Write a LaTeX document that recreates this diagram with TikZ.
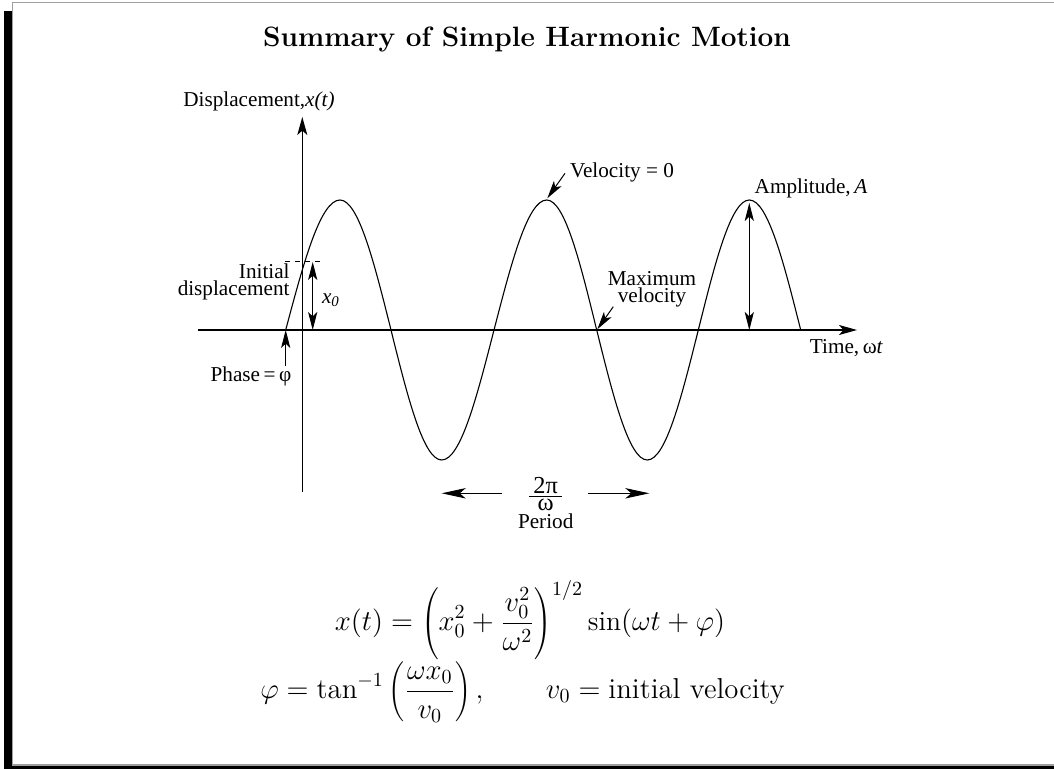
\documentclass[tikz,border=0pt]{standalone}
\usepackage{fontspec}
\newfontfamily\tms{Liberation Serif}
\usetikzlibrary{arrows.meta}
\begin{document}
\begin{tikzpicture}[x=0.5pt,y=-0.5pt,
  lbl/.style={font=\tms\fontsize{10.6}{8.4}\selectfont, inner sep=0pt},
  eqn/.style={font=\fontsize{14.4}{17}\selectfont, inner sep=0pt},
  arr/.style={-{Stealth[length=9pt,width=4.6pt,inset=2.2pt]}, line width=0.5pt},
  darr/.style={{Stealth[length=9pt,width=4.6pt,inset=2.2pt]}-{Stealth[length=9pt,width=4.6pt,inset=2.2pt]}, line width=0.5pt},
  parr/.style={-{Stealth[length=12pt,width=5.2pt,inset=3pt]}, line width=0.5pt},
  axis/.style={line width=0.6pt},
  curve/.style={line width=0.55pt}]
\useasboundingbox (0,0) rectangle (1054,769);
\clip (0,0) rectangle (1054,769);
% frame with shadow
\fill[black] (4,10.7) rectangle (1070,780);
\filldraw[fill=white, draw=gray!75, line width=0.7pt] (12.3,2.7) rectangle (1070,765);
% title
\node[font=\fontsize{14}{17}\selectfont\bfseries, inner sep=0pt] (title) at (527,40) {Summary of Simple Harmonic Motion};
% coordinates
\coordinate (yb) at (302.3,492);
\coordinate (yt) at (302.3,117);
\coordinate (xl) at (198,330);
\coordinate (xr) at (857,330);
\coordinate (zero) at (285.7,330);
\coordinate (p1) at (340,200);
\coordinate (z1) at (391,330);
\coordinate (t1) at (441.7,460);
\coordinate (z2) at (494,330);
\coordinate (p2) at (546.7,200);
\coordinate (z3) at (596.7,330);
\coordinate (t2) at (647.3,460);
\coordinate (z4) at (698.3,330);
\coordinate (p3) at (749.3,200);
\coordinate (z5) at (800.7,330);
% axes
\draw[axis, -{Stealth[length=9pt,width=5pt,inset=2.2pt]}] (yb) -- (yt);
\draw[axis, -{Stealth[length=9pt,width=5pt,inset=2.2pt]}] (xl) -- (xr);
% curve
\draw[curve] (zero) sin (p1) cos (z1) sin (t1) cos (z2) sin (p2) cos (z3) sin (t2) cos (z4) sin (p3) cos (z5);
% axis labels
\node[lbl] (ylab) at (259,101) {Displacement,\textit{x(t)}};
\node[lbl] (time) at (846.5,348.3) {Time,\,ω\textit{t}};
% initial displacement
\coordinate (d1) at (285,261.7);
\coordinate (d2) at (320,261.7);
\draw[line width=0.5pt, dash pattern=on 2.5pt off 2.5pt] (d1) -- (d2);
\coordinate (x0t) at (312.7,262);
\coordinate (x0b) at (312.7,330);
\draw[darr] (x0t) -- (x0b);
\node[lbl] (x0lab) at (331,300) {\itshape x\textsubscript{0}};
\node[lbl, align=right, anchor=east] (init) at (290,282) {Initial\\displacement};
% phase
\node[lbl] (phase) at (251,376) {Phase\,=\,φ};
\coordinate (ph) at (285.7,366);
\draw[arr] (ph) -- (zero);
% velocity = 0
\node[lbl] (vel0) at (622,172) {Velocity = 0};
\coordinate (v0s) at (565,173.3);
\coordinate (v0e) at (547.3,198.3);
\draw[arr] (v0s) -- (v0e);
% amplitude
\node[lbl] (amp) at (811,188) {Amplitude,\,\textit{A}};
\coordinate (at) at (749.3,203);
\coordinate (ab) at (749.3,330);
\draw[darr] (at) -- (ab);
% maximum velocity
\node[lbl, align=center] (maxv) at (652,289) {Maximum\\velocity};
\coordinate (mvs) at (613.3,306.7);
\coordinate (mve) at (597.3,329.3);
\draw[arr] (mvs) -- (mve);
% period
\node[lbl, font=\tms\fontsize{12.2}{14}\selectfont] (frac) at (545.7,494) {$\frac{\mbox{\,2π\,}}{\mbox{ω}}$};
\node[lbl] (period) at (545.7,521) {Period};
\coordinate (pl1) at (501.7,493.3);
\coordinate (pl2) at (441.7,493.3);
\coordinate (pr1) at (588.3,493.3);
\coordinate (pr2) at (649.3,493.3);
\draw[parr] (pl1) -- (pl2);
\draw[parr] (pr1) -- (pr2);
% equations
\node[eqn, font=\fontsize{13.8}{16}\selectfont] (eq1) at (530,620) {$\displaystyle x(t)=\left(x_0^2+\frac{v_0^2}{\omega^2}\right)^{1/2}\sin(\omega t+\varphi)$};
\node[eqn] (eq2) at (522.5,692) {$\displaystyle \varphi=\tan^{-1}\left(\frac{\omega x_0}{v_0}\right),\hspace{2.0em} v_0=\mbox{initial velocity}$};
\end{tikzpicture}
\end{document}
